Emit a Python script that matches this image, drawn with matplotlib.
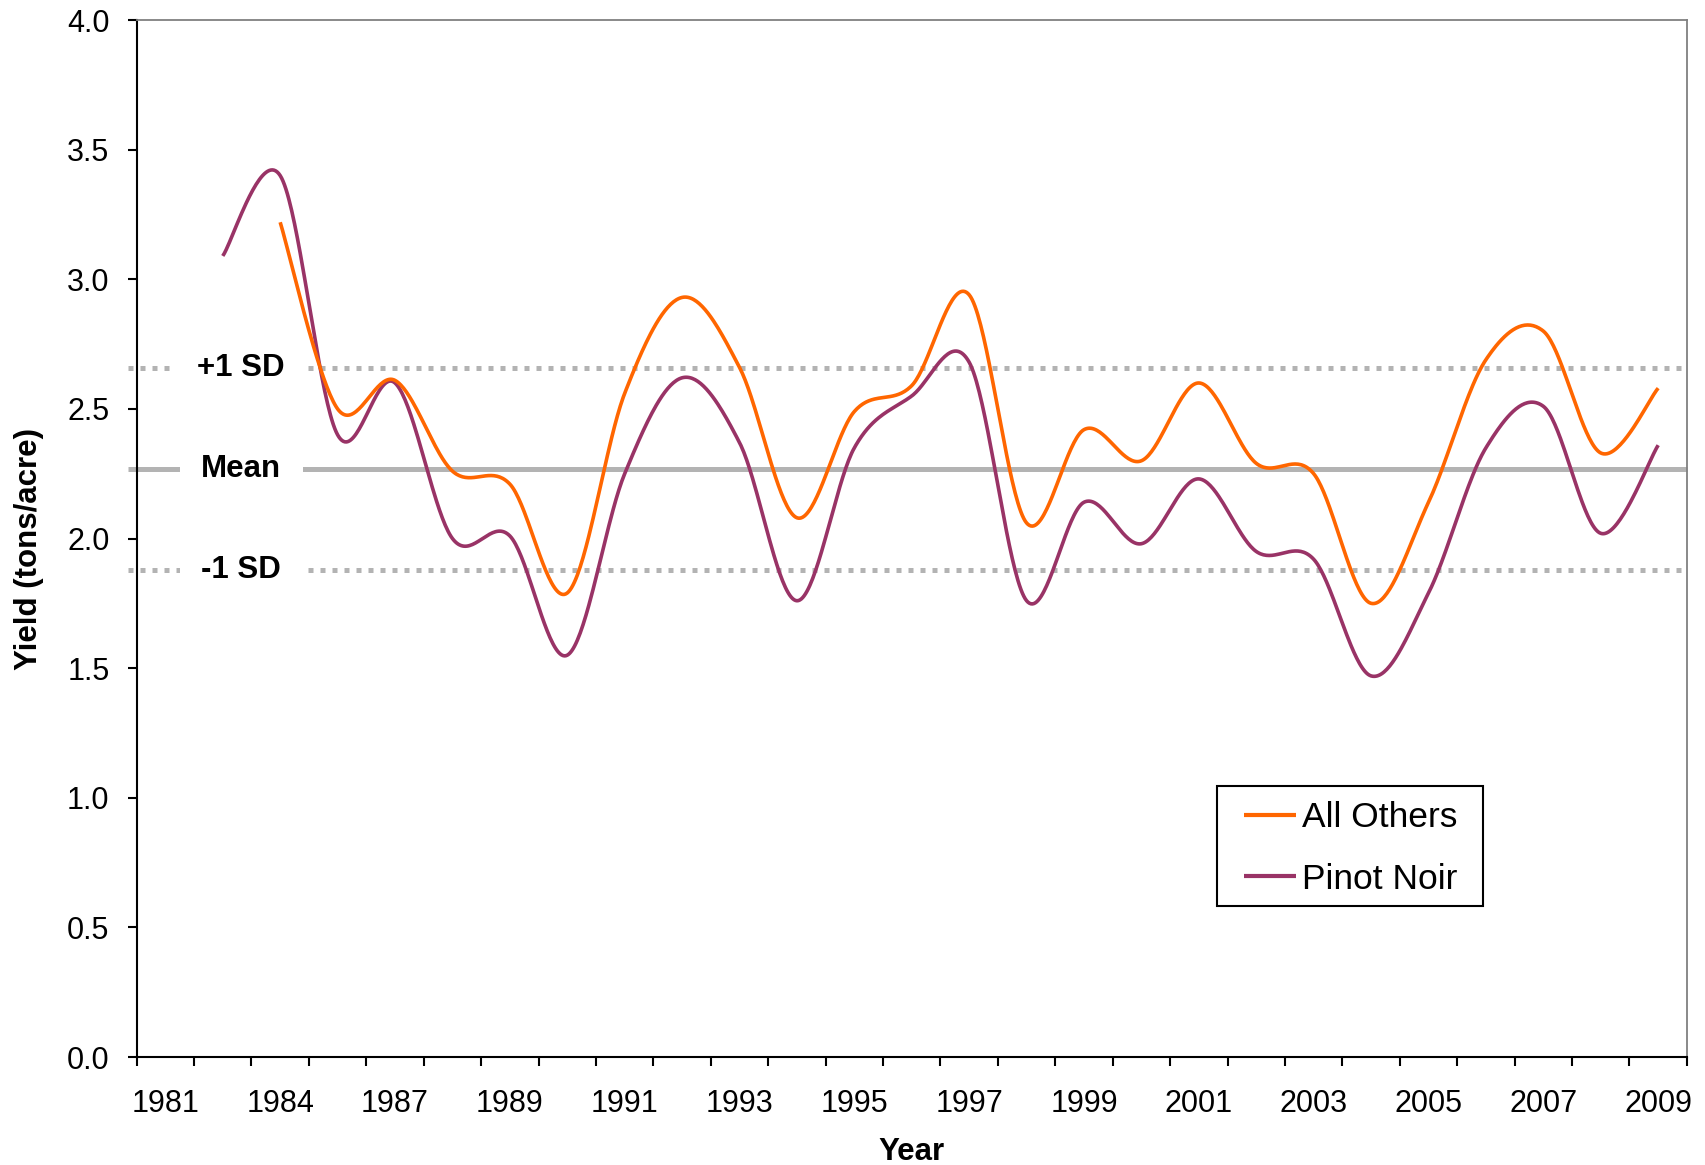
import numpy as np
import matplotlib
matplotlib.use("Agg")
import matplotlib.pyplot as plt
import matplotlib.transforms as mtransforms
from matplotlib.patches import Rectangle

plt.rcParams['font.family'] = ['Liberation Sans', 'DejaVu Sans']

# ---------------- data ----------------
categories = ['1981', '1982', '1984', '1985', '1987', '1988', '1989', '1990', '1991',
              '1992', '1993', '1994', '1995', '1996', '1997', '1998', '1999', '2000',
              '2001', '2002', '2003', '2004', '2005', '2006', '2007', '2008', '2009']
shown_labels = ['1981', '1984', '1987', '1989', '1991', '1993', '1995', '1997',
                '1999', '2001', '2003', '2005', '2007', '2009']

all_others = [None, None, 3.22, 2.50, 2.61, 2.26, 2.21, 1.79, 2.56, 2.93, 2.66, 2.08,
              2.49, 2.59, 2.94, 2.06, 2.42, 2.30, 2.60, 2.29, 2.25, 1.75, 2.14, 2.69,
              2.80, 2.33, 2.58]
pinot_noir = [None, 3.09, 3.40, 2.40, 2.60, 2.00, 2.01, 1.55, 2.25, 2.62, 2.37, 1.76,
              2.35, 2.55, 2.68, 1.76, 2.14, 1.98, 2.23, 1.95, 1.92, 1.47, 1.79, 2.35,
              2.51, 2.02, 2.36]

mean_val = 2.267
sd_val = 0.39
ref_labels = ['+1 SD', 'Mean', '-1 SD']

y_ticks = [0.0, 0.5, 1.0, 1.5, 2.0, 2.5, 3.0, 3.5, 4.0]


def smooth(xs, ys, n=40):
    """Excel-like smoothed line (Catmull-Rom Bezier through points)."""
    pts = np.column_stack([xs, ys]).astype(float)
    out = []
    m = len(pts)
    for i in range(m - 1):
        p0 = pts[i - 1] if i > 0 else pts[i]
        p1 = pts[i]
        p2 = pts[i + 1]
        p3 = pts[i + 2] if i + 2 < m else pts[i + 1]
        c1 = p1 + (p2 - p0) / 6.0
        c2 = p2 - (p3 - p1) / 6.0
        t = np.linspace(0, 1, n, endpoint=(i == m - 2))[:, None]
        seg = ((1 - t) ** 3) * p1 + 3 * ((1 - t) ** 2) * t * c1 + 3 * (1 - t) * t ** 2 * c2 + t ** 3 * p2
        out.append(seg)
    out = np.vstack(out)
    return out[:, 0], out[:, 1]


def series_xy(vals):
    xs = [i for i, v in enumerate(vals) if v is not None]
    ys = [v for v in vals if v is not None]
    return xs, ys


fig = plt.figure(figsize=(17.06, 11.65), dpi=100)
ax = fig.add_axes([0.0801, 0.0927, 0.9087, 0.8901])

n = len(categories)
ax.set_xlim(-0.5, n - 0.5)
ax.set_ylim(0, 4.0)

gray = '#B3B3B3'
# reference lines (extend slightly left of the axis)
x_ref = [-0.65, n - 0.5]
ax.plot(x_ref, [mean_val, mean_val], color=gray, lw=3.6, solid_capstyle='butt',
        zorder=1, clip_on=False)
for yv in (mean_val + sd_val, mean_val - sd_val):
    ax.plot(x_ref, [yv, yv], color=gray, lw=3.6, dash_capstyle='butt',
            linestyle=(0, (1.0, 1.4)), zorder=1, clip_on=False)

trans = mtransforms.blended_transform_factory(ax.transAxes, ax.transData)
for lab, yv in zip(ref_labels, (mean_val + sd_val, mean_val, mean_val - sd_val)):
    ax.text(0.0675, yv, lab, transform=trans, ha='center', va='center',
            fontsize=22.5, fontweight='bold', zorder=2,
            bbox=dict(boxstyle='square,pad=0.68', fc='white', ec='none'))

xo, yo = series_xy(all_others)
sx, sy = smooth(xo, yo)
ax.plot(sx, sy, color='#FF6600', lw=2.6, label='All Others', zorder=4,
        solid_capstyle='butt')
xp, yp = series_xy(pinot_noir)
sx, sy = smooth(xp, yp)
ax.plot(sx, sy, color='#993366', lw=2.6, label='Pinot Noir', zorder=3,
        solid_capstyle='butt')

# axes styling
for s in ('left', 'bottom'):
    ax.spines[s].set_color('black')
    ax.spines[s].set_linewidth(1.5)
for s in ('top', 'right'):
    ax.spines[s].set_color('#808080')
    ax.spines[s].set_linewidth(1.3)

ax.set_yticks(y_ticks)
ax.set_yticklabels([f'{v:.1f}' for v in y_ticks])
ax.tick_params(axis='y', direction='out', length=6.5, width=1.5, pad=13,
               labelsize=22, colors='black')

ax.set_xticks(np.arange(-0.5, n, 1.0))
ax.set_xticklabels([])
ax.tick_params(axis='x', which='major', direction='out', length=6.5, width=1.5)
label_pos = [categories.index(l) for l in shown_labels]
ax.set_xticks(label_pos, minor=True)
ax.set_xticklabels(shown_labels, minor=True)
ax.tick_params(axis='x', which='minor', length=0, pad=23, labelsize=22)

ax.set_ylabel('Yield (tons/acre)', fontsize=22.5, fontweight='bold', va='center')
ax.yaxis.set_label_coords(-0.0695, 0.49)
ax.set_xlabel('Year', fontsize=22.5, fontweight='bold', va='center')
ax.xaxis.set_label_coords(0.5, -0.092)

# legend: frame drawn as rectangle, entries placed inside it
ax.add_patch(Rectangle((0.697, 0.1456), 0.1712, 0.1157, transform=ax.transAxes,
                       fill=True, fc='white', ec='black', lw=1.5, zorder=5))
leg = ax.legend(loc='center left', bbox_to_anchor=(0.7146, 0.201), borderaxespad=0,
                fontsize=25.5, frameon=False, handlelength=1.45,
                handletextpad=0.17, borderpad=0.0, labelspacing=0.8)
leg.set_zorder(6)
for h in leg.get_lines():
    h.set_linewidth(3.0)

fig.savefig('out.png', dpi=100, facecolor='white')
